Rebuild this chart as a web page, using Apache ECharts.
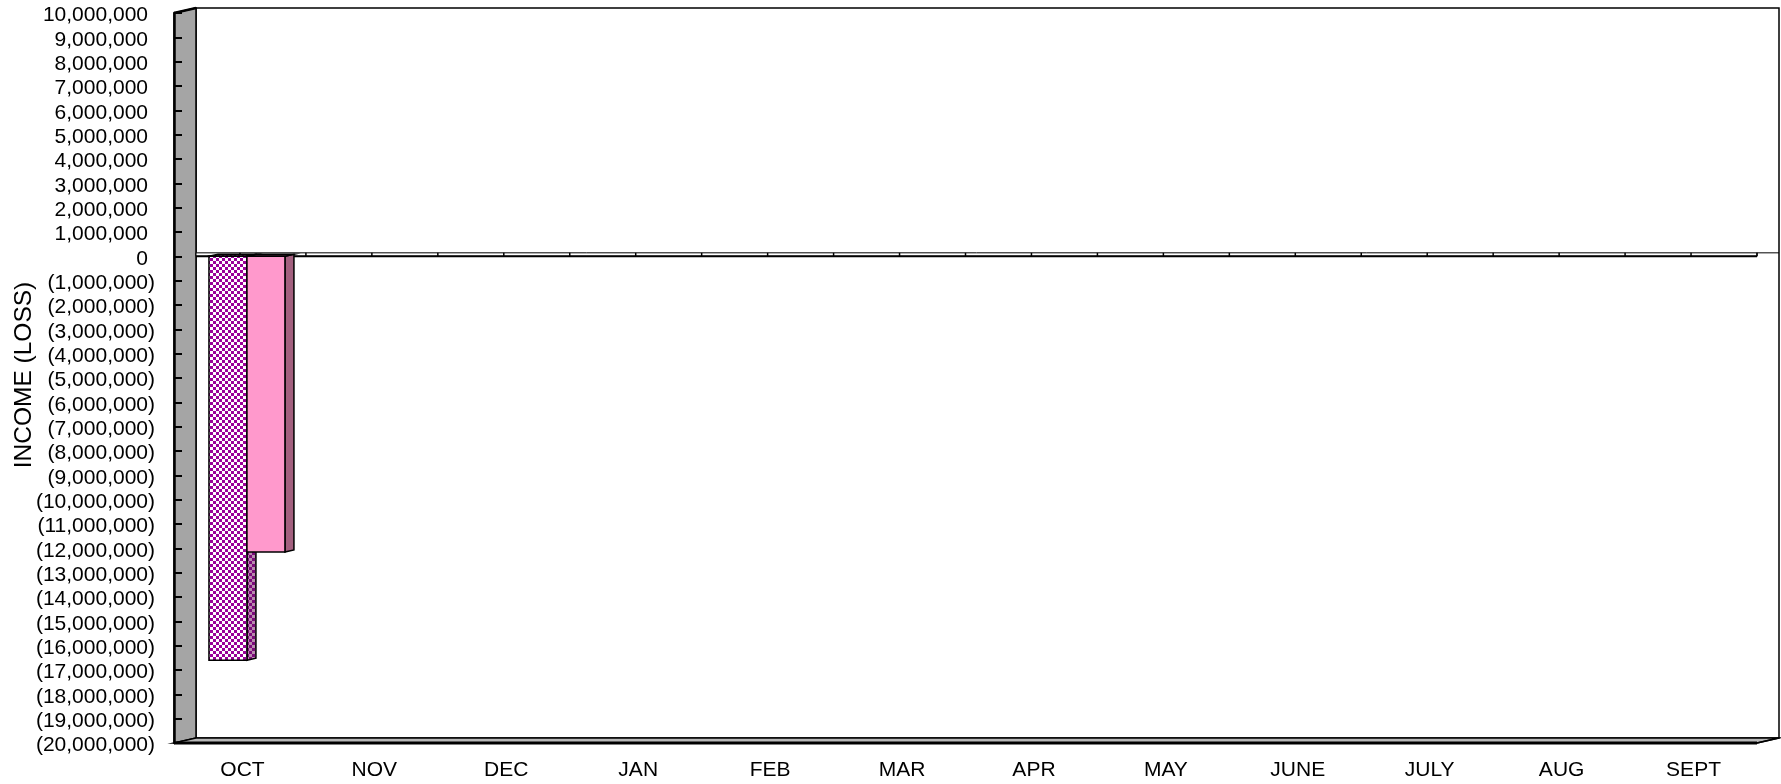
<!DOCTYPE html>
<html>
<head>
<meta charset="utf-8">
<script src="https://cdn.jsdelivr.net/npm/echarts@6/dist/echarts.min.js"></script>
<style>
  html, body { margin: 0; padding: 0; background: #ffffff; }
  #chart { width: 1781px; height: 784px; }
</style>
</head>
<body>
<div id="chart"></div>
<script>
// Months of the fiscal year, October through September
const months = ['OCT', 'NOV', 'DEC', 'JAN', 'FEB', 'MAR', 'APR', 'MAY', 'JUNE', 'JULY', 'AUG', 'SEPT'];

// Monthly income (loss); only October has been posted so far
const checkeredValues = [-16600000, null, null, null, null, null, null, null, null, null, null, null];
const pinkValues = [-12150000, null, null, null, null, null, null, null, null, null, null, null];

// Value axis range and step
const yMin = -20000000;
const yMax = 10000000;
const yStep = 1000000;

const yTitle = 'INCOME (LOSS)';

const FONT = '"Liberation Sans", Arial, sans-serif';

// Depth of the 3D box (offset from front plane to back wall) and of each bar
const DEPTH_X = 22, DEPTH_Y = -5;
const BAR_DX = 9, BAR_DY = -2;

// Small checkerboard fill, like the classic spreadsheet pattern
function checker(fg, bg, cell) {
  const c = document.createElement('canvas');
  c.width = cell * 2; c.height = cell * 2;
  const g = c.getContext('2d');
  g.fillStyle = bg; g.fillRect(0, 0, c.width, c.height);
  g.fillStyle = fg;
  g.fillRect(0, 0, cell, cell);
  g.fillRect(cell, cell, cell, cell);
  return { image: c, repeat: 'repeat' };
}

const checkerFront = checker('#990099', '#ffffff', 3);
const checkerSide = checker('#7a0a7a', '#b98aae', 3);
const checkerTop = checker('#5a005a', '#9a6a90', 2);

const fmt = n => Math.abs(n).toLocaleString('en-US');

// Back wall, left wall and floor of the 3D plot box
function renderFrame(params, api) {
  const cs = params.coordSys;
  const x = cs.x, y = cs.y, w = cs.width, h = cs.height;
  const b = y + h;
  const line = { stroke: '#000', lineWidth: 1.5, fill: null };
  return {
    type: 'group',
    children: [
      // back wall
      { type: 'polygon', shape: { points: [[x + DEPTH_X, y + DEPTH_Y], [x + w + DEPTH_X, y + DEPTH_Y], [x + w + DEPTH_X, b + DEPTH_Y], [x + DEPTH_X, b + DEPTH_Y]] },
        style: { fill: '#ffffff', stroke: '#000', lineWidth: 1.5 } },
      // left wall
      { type: 'polygon', shape: { points: [[x, y], [x + DEPTH_X, y + DEPTH_Y], [x + DEPTH_X, b + DEPTH_Y], [x, b]] },
        style: { fill: '#a5a5a5', stroke: '#000', lineWidth: 1.5 } },
      // floor
      { type: 'polygon', shape: { points: [[x, b], [x + DEPTH_X, b + DEPTH_Y], [x + w + DEPTH_X, b + DEPTH_Y], [x + w, b]] },
        style: { fill: '#b8b8b8', stroke: '#000', lineWidth: 1.5 } },
      { type: 'line', shape: { x1: x, y1: b, x2: x + w, y2: b }, style: { stroke: '#000', lineWidth: 3 } },
      { type: 'line', shape: { x1: x + w, y1: b, x2: x + w + DEPTH_X, y2: b + DEPTH_Y }, style: line },
      { type: 'line', shape: { x1: x, y1: y, x2: x + DEPTH_X, y2: y + DEPTH_Y }, style: { stroke: '#000', lineWidth: 2.5 } }
    ]
  };
}

// The thin plate where the category axis crosses zero
function renderZeroPlate(params, api) {
  const cs = params.coordSys;
  const x = cs.x, w = cs.width;
  const zy = api.coord([0, 0])[1];
  const band = api.size([1, 0])[0];
  const left = x + DEPTH_X, right = x + w, t = zy - 3.5;
  const children = [
    { type: 'rect', shape: { x: left, y: t, width: right - left, height: zy - t }, style: { fill: '#ffffff', stroke: '#000', lineWidth: 1 } },
    { type: 'line', shape: { x1: left, y1: zy, x2: right, y2: zy }, style: { stroke: '#000', lineWidth: 2 } },
    { type: 'line', shape: { x1: right, y1: t, x2: right + DEPTH_X, y2: t }, style: { stroke: '#000', lineWidth: 1 } }
  ];
  for (let k = 1; k <= months.length * 2; k++) {
    const sx = x + k * band / 2;
    if (sx < left) continue;
    children.push({ type: 'line', shape: { x1: sx, y1: t, x2: sx, y2: zy }, style: { stroke: '#000', lineWidth: 1.5 } });
  }
  return { type: 'group', children };
}

// 3D bar: front face, right side face and top face
function barRenderer(slot, front, side, top) {
  return function (params, api) {
    const v = api.value(1);
    if (v == null || isNaN(v)) return null;
    const idx = api.value(0);
    const p0 = api.coord([idx, 0]);
    const p1 = api.coord([idx, v]);
    const band = api.size([1, 0])[0];
    const bw = band * 0.288;
    const shift = band * 0.053;
    const x0 = p0[0] + shift + (slot - 1) * bw;
    const x1 = x0 + bw;
    const yTop = Math.min(p0[1], p1[1]);
    const yBot = Math.max(p0[1], p1[1]);
    const edge = { stroke: '#000', lineWidth: 1.5 };
    return {
      type: 'group',
      children: [
        { type: 'polygon', shape: { points: [[x1, yTop], [x1 + BAR_DX, yTop + BAR_DY], [x1 + BAR_DX, yBot + BAR_DY], [x1, yBot]] },
          style: Object.assign({ fill: side }, edge) },
        { type: 'polygon', shape: { points: [[x0, yTop], [x1, yTop], [x1 + BAR_DX, yTop + BAR_DY], [x0 + BAR_DX, yTop + BAR_DY]] },
          style: Object.assign({ fill: top }, edge) },
        { type: 'rect', shape: { x: x0, y: yTop, width: bw, height: yBot - yTop },
          style: Object.assign({ fill: front }, edge) }
      ]
    };
  };
}

const chart = echarts.init(document.getElementById('chart'), null, { renderer: 'canvas' });

chart.setOption({
  animation: false,
  backgroundColor: '#ffffff',
  grid: { left: 174, right: 24, top: 13, bottom: 41, containLabel: false, outerBoundsMode: 'none' },
  xAxis: {
    type: 'category',
    data: months,
    boundaryGap: true,
    axisLine: { show: false },
    axisTick: { show: false },
    splitLine: { show: false },
    axisLabel: { color: '#000', fontFamily: FONT, fontSize: 21, margin: 17, padding: [0, 0, 0, 5] }
  },
  yAxis: {
    type: 'value',
    min: yMin,
    max: yMax,
    interval: yStep,
    z: 10,
    name: yTitle,
    nameLocation: 'middle',
    nameRotate: 90,
    nameGap: 137,
    nameMoveOverlap: false,
    nameTextStyle: { color: '#000', fontFamily: FONT, fontSize: 24.5, padding: [0, 0, 0, 6] },
    axisLine: { show: true, lineStyle: { color: '#000', width: 2.5 } },
    axisTick: { show: true, inside: true, length: 8, lineStyle: { color: '#000', width: 2 } },
    splitLine: { show: false },
    axisLabel: {
      margin: 19,
      color: '#000',
      fontFamily: FONT,
      fontSize: 21,
      formatter: v => v < 0 ? '{n|(' + fmt(v) + ')}' : '{n|' + fmt(v) + '}{gap|)}',
      rich: {
        n: { color: '#000', fontFamily: FONT, fontSize: 21, padding: [5, 0, 0, 0] },
        gap: { color: 'rgba(0,0,0,0)', fontFamily: FONT, fontSize: 21, padding: [5, 0, 0, 0] }
      }
    }
  },
  series: [
    { type: 'custom', name: 'frame', z: 1, silent: true, renderItem: renderFrame, data: [[0, 0]] },
    { type: 'custom', name: 'zero plate', z: 2, silent: true, renderItem: renderZeroPlate, data: [[0, 0]] },
    { type: 'custom', name: 'checkered', z: 3, renderItem: barRenderer(0, checkerFront, checkerSide, checkerTop),
      data: checkeredValues.map((v, i) => [i, v]) },
    { type: 'custom', name: 'pink', z: 4, renderItem: barRenderer(1, '#ff99cc', '#a3607f', '#7e3a60'),
      data: pinkValues.map((v, i) => [i, v]) }
  ]
});
</script>
</body>
</html>
